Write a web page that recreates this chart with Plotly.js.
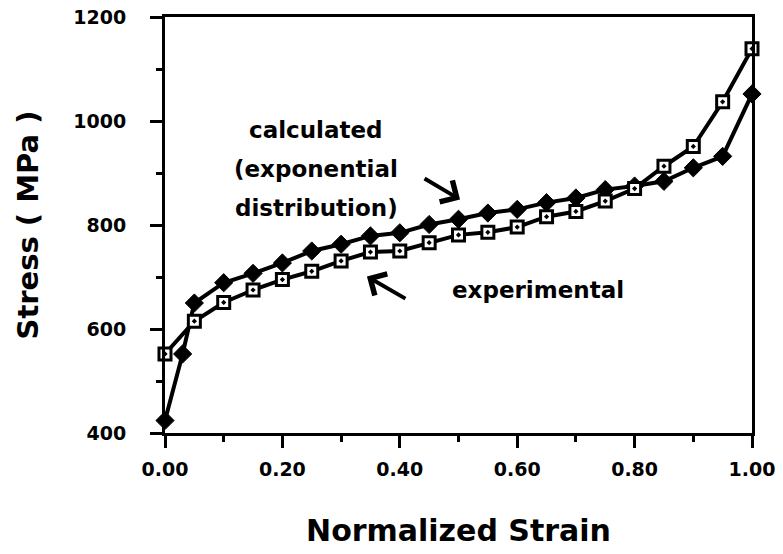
<!DOCTYPE html>
<html>
<head>
<meta charset="utf-8">
<script src="https://cdn.plot.ly/plotly-3.0.1.min.js"></script>
<style>
  html, body { margin: 0; padding: 0; background: #ffffff; }
  #chart { width: 783px; height: 554px; }
</style>
</head>
<body>
<div id="chart"></div>
<script>
// Experimental series (open squares)
const strainExperimental = [0.00, 0.05, 0.10, 0.15, 0.20, 0.25, 0.30, 0.35, 0.40, 0.45, 0.50,
                            0.55, 0.60, 0.65, 0.70, 0.75, 0.80, 0.85, 0.90, 0.95, 1.00];
const stressExperimental = [552, 615, 651, 675, 695, 711, 731, 748, 750, 766, 781,
                            786, 796, 816, 826, 846, 870, 913, 951, 1037, 1139];

// Calculated (exponential distribution) series (filled diamonds)
const strainCalculated = [0.00, 0.03, 0.05, 0.10, 0.15, 0.20, 0.25, 0.30, 0.35, 0.40, 0.45,
                          0.50, 0.55, 0.60, 0.65, 0.70, 0.75, 0.80, 0.85, 0.90, 0.95, 1.00];
const stressCalculated = [424, 552, 650, 689, 707, 727, 750, 763, 779, 785, 801,
                          811, 823, 830, 843, 852, 868, 875, 884, 910, 932, 1052];

// Axis ticks
const xTickValues = [0.00, 0.20, 0.40, 0.60, 0.80, 1.00];
const xTickLabels = ["0.00", "0.20", "0.40", "0.60", "0.80", "1.00"];
const yTickValues = [400, 600, 800, 1000, 1200];
const yTickLabels = ["400", "600", "800", "1000", "1200"];

// Text labels
const xTitle = "Normalized Strain";
const yTitle = "Stress ( MPa )";
const calcLabelLines = ["calculated", "(exponential", "distribution)"];
const expLabel = "experimental";

const calcTrace = {
  x: strainCalculated, y: stressCalculated,
  type: "scatter", mode: "lines+markers", name: "calculated",
  line: { color: "#000000", width: 4 },
  marker: { symbol: "diamond", size: 14, color: "#000000", line: { color: "#000000", width: 1 } },
  cliponaxis: false, showlegend: false, hoverinfo: "x+y"
};
const expTrace = {
  x: strainExperimental, y: stressExperimental,
  type: "scatter", mode: "lines+markers", name: "experimental",
  line: { color: "#000000", width: 4 },
  marker: { symbol: "square-dot", size: 12, color: "#ffffff", line: { color: "#000000", width: 3 } },
  cliponaxis: false, showlegend: false, hoverinfo: "x+y"
};

const textFont = { family: "DejaVu Sans, Arial, sans-serif", size: 23, color: "#000000", weight: "bold" };
const calcY = [983, 907, 832];
const annotations = calcLabelLines.map((t, i) => ({
  x: 0.258, y: calcY[i], xref: "x", yref: "y", text: t, showarrow: false,
  xanchor: "center", yanchor: "middle", font: textFont
}));
annotations.push({
  x: 0.635, y: 675, xref: "x", yref: "y", text: expLabel, showarrow: false,
  xanchor: "center", yanchor: "middle", font: textFont
});
// arrows
annotations.push({
  x: 0.5026, y: 849, xref: "x", yref: "y", text: "", showarrow: true,
  ax: -37, ay: -22, arrowhead: 4, arrowsize: 1.2, arrowwidth: 4, arrowcolor: "#000000"
});
annotations.push({
  x: 0.344, y: 701, xref: "x", yref: "y", text: "", showarrow: true,
  ax: 40, ay: 23, arrowhead: 4, arrowsize: 1.2, arrowwidth: 4, arrowcolor: "#000000"
});

const tickFont = { family: "DejaVu Sans, Arial, sans-serif", size: 19, color: "#000000", weight: "bold" };

const layout = {
  width: 783, height: 554,
  margin: { l: 165, r: 31, t: 17, b: 121, pad: 0 },
  paper_bgcolor: "#ffffff", plot_bgcolor: "#ffffff",
  showlegend: false,
  xaxis: {
    range: [0, 1], autorange: false,
    tickvals: xTickValues, ticktext: xTickLabels,
    ticks: "outside", ticklen: 12, tickwidth: 3, tickcolor: "#000000",
    minor: { dtick: 0.1, ticks: "outside", ticklen: 6, tickwidth: 3, tickcolor: "#000000", showgrid: false },
    showline: true, linecolor: "#000000", linewidth: 3, mirror: true,
    showgrid: false, zeroline: false,
    ticklabelstandoff: 5,
    tickfont: tickFont,
    title: { text: xTitle, standoff: 42, font: { family: "DejaVu Sans, Arial, sans-serif", size: 30, color: "#000000", weight: "bold" } }
  },
  yaxis: {
    range: [400, 1200], autorange: false,
    tickvals: yTickValues, ticktext: yTickLabels,
    ticks: "outside", ticklen: 12, tickwidth: 3, tickcolor: "#000000",
    minor: { dtick: 100, ticks: "outside", ticklen: 6, tickwidth: 3, tickcolor: "#000000", showgrid: false },
    showline: true, linecolor: "#000000", linewidth: 3, mirror: true,
    showgrid: false, zeroline: false,
    ticklabelstandoff: 20,
    tickfont: tickFont,
    title: { text: yTitle, standoff: 27, font: { family: "DejaVu Sans, Arial, sans-serif", size: 29, color: "#000000", weight: "bold" } }
  },
  annotations: annotations
};

Plotly.newPlot("chart", [calcTrace, expTrace], layout, { staticPlot: true, displayModeBar: false });
</script>
</body>
</html>
